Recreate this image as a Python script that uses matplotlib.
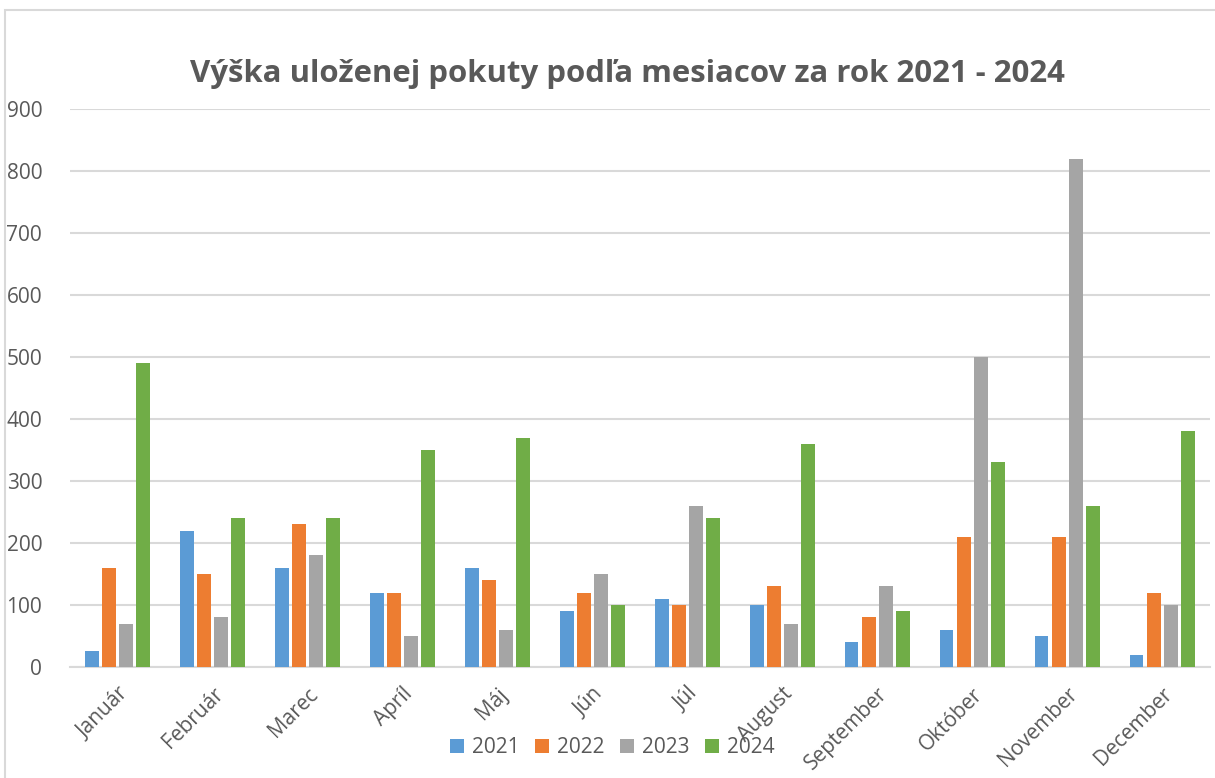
import numpy as np
import matplotlib.pyplot as plt
from matplotlib.patches import Rectangle

months = ['Január', 'Február', 'Marec', 'Apríl', 'Máj', 'Jún', 'Júl',
          'August', 'September', 'Október', 'November', 'December']
years = ['2021', '2022', '2023', '2024']
v2021 = [25, 220, 160, 120, 160, 90, 110, 100, 40, 60, 50, 20]
v2022 = [160, 150, 230, 120, 140, 120, 100, 130, 80, 210, 210, 120]
v2023 = [70, 80, 180, 50, 60, 150, 260, 70, 130, 500, 820, 100]
v2024 = [490, 240, 240, 350, 370, 100, 240, 360, 90, 330, 260, 380]
colors = ['#5b9bd5', '#ed7d31', '#a5a5a5', '#70ad47']

plt.rcParams['font.family'] = ['Open Sans', 'DejaVu Sans']
text_col = '#595959'

fig = plt.figure(figsize=(12.15, 7.78), dpi=100)
fig.patches.append(Rectangle((0.004, -0.01), 1.0, 0.997, transform=fig.transFigure,
                             fill=False, edgecolor='#d9d9d9', linewidth=1.5))
ax = fig.add_axes([0.0576, 0.1427, 0.938, 0.7173])

x = np.arange(len(months))
width = 0.145
step = 0.18
for i, (vals, c, y) in enumerate(zip([v2021, v2022, v2023, v2024], colors, years)):
    ax.bar(x + (i - 1.5) * step, vals, width, color=c, label=y, zorder=3)

ax.set_xlim(-0.5, len(months) - 0.5)
ax.set_ylim(0, 900)
ax.set_yticks(range(0, 901, 100))
ax.grid(axis='y', color='#d9d9d9', linewidth=1.5, zorder=0)
for s in ['top', 'right', 'left']:
    ax.spines[s].set_visible(False)
ax.spines['bottom'].set_color('#d9d9d9')
ax.spines['bottom'].set_linewidth(1.5)
ax.tick_params(axis='both', length=0, labelsize=15, labelcolor=text_col)
ax.tick_params(axis='y', pad=20)
ax.set_xticks(x)
ax.set_xticklabels(months, rotation=45, ha='right', rotation_mode='anchor')
ax.tick_params(axis='x', pad=12)

fig.text(0.516, 0.905, 'Výška uloženej pokuty podľa mesiacov za rok 2021 - 2024',
         ha='center', va='center', fontsize=22.4, fontweight='bold', color=text_col)

ax.legend(loc='center', bbox_to_anchor=(0.504, 0.039), bbox_transform=fig.transFigure,
          ncol=4, frameon=False, fontsize=15, labelcolor=text_col,
          handlelength=0.65, handleheight=0.65, handletextpad=0.4, columnspacing=0.75)

fig.savefig('out.png', dpi=100)
